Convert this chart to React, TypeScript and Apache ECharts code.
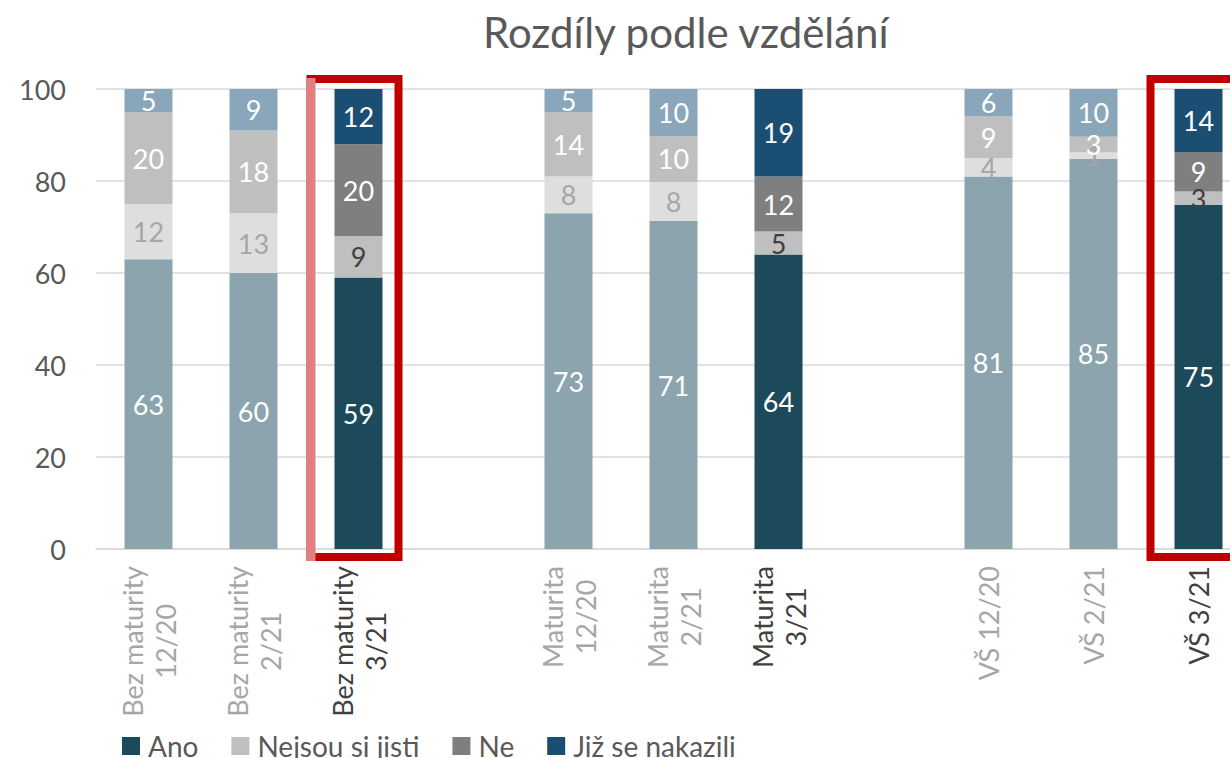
import React, { useEffect, useRef } from "react";
import * as echarts from "echarts";

const categories = [
  "Bez maturity\n12/20",
  "Bez maturity\n2/21",
  "Bez maturity\n3/21",
  " ",
  "Maturita\n12/20",
  "Maturita\n2/21",
  "Maturita\n3/21",
  "  ",
  "VŠ 12/20",
  "VŠ 2/21",
  "VŠ 3/21",
];
const current = [false, false, true, false, false, false, true, false, false, false, true];

const ano = [63, 60, 59, null, 73, 71.3, 64, null, 81, 84.8, 74.8];
const nejsou = [12, 13, 9, null, 8, 8.49, 5, null, 4, 1.4, 2.9];
const ne = [20, 18, 20, null, 14, 10, 12, null, 9, 3.4, 8.6];
const nakazili = [5, 9, 12, null, 5, 10.2, 19, null, 6, 10.4, 13.7];

const yTicks = [0, 20, 40, 60, 80, 100];

const FONT = "Lato";

type SeriesDef = {
  name: string;
  values: (number | null)[];
  color: string;
  faded: string;
  labelColor: string;
  fadedLabel: string;
};

const seriesDefs: SeriesDef[] = [
  { name: "Ano", values: ano, color: "#1D4A5B", faded: "#8BA4AE", labelColor: "#FFFFFF", fadedLabel: "#FFFFFF" },
  { name: "Nejsou si jisti", values: nejsou, color: "#BFBFBF", faded: "#DEDEDE", labelColor: "#404040", fadedLabel: "#A6A6A6" },
  { name: "Ne", values: ne, color: "#7F7F7F", faded: "#BFBFBF", labelColor: "#FFFFFF", fadedLabel: "#FFFFFF" },
  { name: "Již se nakazili", values: nakazili, color: "#1A4E73", faded: "#89A6BB", labelColor: "#FFFFFF", fadedLabel: "#FFFFFF" },
];

export default function App() {
  const ref = useRef<HTMLDivElement>(null);

  useEffect(() => {
    if (!ref.current) return;
    const chart = echarts.init(ref.current, null, { renderer: "svg" });

    const series = seriesDefs.map((s) => ({
      name: s.name,
      type: "bar",
      stack: "total",
      barWidth: 48,
      itemStyle: { color: s.color },
      label: {
        show: true,
        position: "inside",
        fontFamily: FONT,
        fontSize: 27,
        formatter: (p: any) => String(Math.round(p.value)),
      },
      data: s.values.map((v, i) =>
        v === null
          ? "-"
          : {
              value: v,
              itemStyle: { color: current[i] ? s.color : s.faded },
              label: { color: current[i] ? s.labelColor : s.fadedLabel },
            }
      ),
    }));

    chart.setOption({
      animation: false,
      title: {
        text: "Rozdíly podle vzdělání",
        left: 478,
        top: 6,
        textStyle: { fontFamily: FONT, fontSize: 42, fontWeight: "normal", color: "#595959" },
      },
      legend: {
        left: 117,
        top: 727,
        itemWidth: 18,
        itemHeight: 18,
        itemGap: 33,
        icon: "rect",
        textStyle: { fontFamily: FONT, fontSize: 28, color: "#595959", padding: [0, 0, 0, 3] },
        data: seriesDefs.map((s) => s.name),
      },
      grid: { left: 96, right: 0, top: 89, bottom: 209, containLabel: false },
      xAxis: {
        type: "category",
        data: categories,
        axisTick: { show: false },
        axisLine: { lineStyle: { color: "#D9D9D9", width: 1.5 } },
        axisLabel: {
          interval: 0,
          rotate: 90,
          margin: 17,
          fontFamily: FONT,
          fontSize: 27,
          lineHeight: 33,
          formatter: (value: string, index: number) => {
            if (value.trim() === "") return "";
            const st = current[index] ? "d" : "g";
            return value
              .split("\n")
              .map((l) => `{${st}|${l}}`)
              .join("\n");
          },
          rich: {
            g: { color: "#A6A6A6", align: "center", fontFamily: FONT, fontSize: 27, lineHeight: 33 },
            d: { color: "#404040", align: "center", fontFamily: FONT, fontSize: 27, lineHeight: 33 },
          },
        },
      },
      yAxis: {
        type: "value",
        min: yTicks[0],
        max: yTicks[yTicks.length - 1],
        interval: 20,
        axisLine: { show: false },
        axisTick: { show: false },
        axisLabel: { fontFamily: FONT, fontSize: 27, color: "#595959", margin: 30 },
        splitLine: { lineStyle: { color: "#D9D9D9", width: 1.5 } },
      },
      series,
    });

    // highlight boxes around the latest wave of each group
    const yTop = chart.convertToPixel({ yAxisIndex: 0 }, 100) as number;
    const yBot = chart.convertToPixel({ yAxisIndex: 0 }, 0) as number;
    const graphics: any[] = [];
    current.forEach((c, i) => {
      if (!c || (i !== 2 && i !== 10)) return;
      const cx = chart.convertToPixel({ xAxisIndex: 0 }, i) as number;
      graphics.push({
        type: "rect",
        shape: { x: cx - 48, y: yTop - 10, width: 88, height: yBot - yTop + 18 },
        style: { fill: "none", stroke: "#C00000", lineWidth: 8 },
        z: 100,
      });
      if (i === 2) {
        graphics.push({
          type: "rect",
          shape: { x: cx - 52, y: yTop - 11, width: 9, height: yBot - yTop + 23 },
          style: { fill: "#E08080" },
          z: 101,
        });
      }
    });
    chart.setOption({ graphic: graphics });

    return () => chart.dispose();
  }, []);

  return (
    <div style={{ position: "absolute", left: 0, top: 0, width: 1230, height: 758, overflow: "hidden" }}>
      <div ref={ref} style={{ position: "absolute", left: 0, top: 0, width: 1251, height: 758 }} />
    </div>
  );
}
